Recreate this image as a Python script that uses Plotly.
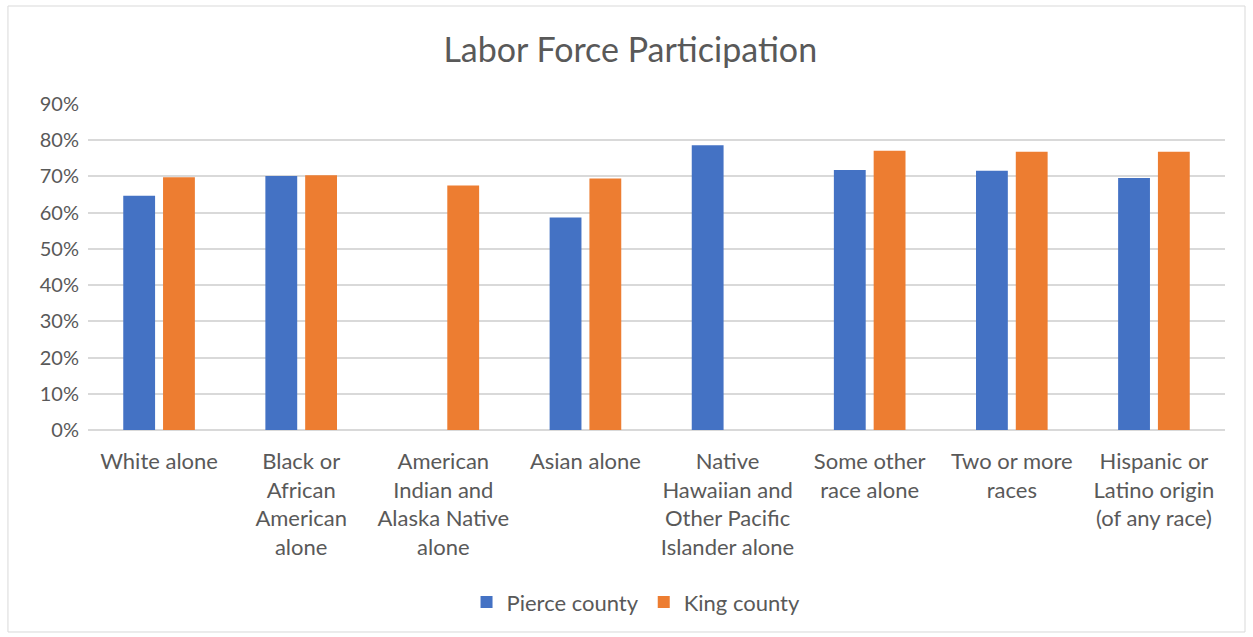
import plotly.graph_objects as go

categories = [
    "White alone",
    "Black or<br>African<br>American<br>alone",
    "American<br>Indian and<br>Alaska Native<br>alone",
    "Asian alone",
    "Native<br>Hawaiian and<br>Other Pacific<br>Islander alone",
    "Some other<br>race alone",
    "Two or more<br>races",
    "Hispanic or<br>Latino origin<br>(of any race)",
]
pierce = [0.647, 0.701, None, 0.587, 0.786, 0.718, 0.716, 0.696]
king = [0.698, 0.703, 0.675, 0.694, None, 0.771, 0.768, 0.768]
y_ticks = [0, 0.1, 0.2, 0.3, 0.4, 0.5, 0.6, 0.7, 0.8, 0.9]

TEXT = "#595959"
FONT = "Lato, 'Noto Sans', sans-serif"

fig = go.Figure()
fig.add_trace(go.Bar(name="Pierce county", x=categories, y=pierce,
                     marker=dict(color="#4472C4", line=dict(width=0))))
fig.add_trace(go.Bar(name="King county", x=categories, y=king,
                     marker=dict(color="#ED7D31", line=dict(width=0))))

fig.update_layout(
    width=1253, height=637,
    margin=dict(l=88, r=28, t=104, b=207),
    paper_bgcolor="white", plot_bgcolor="white",
    font=dict(family=FONT, color=TEXT, size=22),
    barmode="group", bargap=0.44, bargroupgap=0.2,
    title=dict(text="Labor Force Participation", x=0.503, xref="container",
               y=1 - 50 / 637, yref="container", xanchor="center", yanchor="middle",
               font=dict(size=34, color=TEXT, family=FONT)),
    legend=dict(orientation="h", x=0.482, xanchor="center", y=-0.528, yanchor="middle",
                font=dict(size=22, color=TEXT), itemsizing="constant",
                traceorder="normal", itemwidth=30),
    showlegend=True,
    hovermode=False,
)
fig.update_xaxes(showgrid=False, showline=False, ticks="", tickfont=dict(size=22, color=TEXT),
                 ticklabelstandoff=16)
fig.update_yaxes(range=[0, 0.9], tickvals=y_ticks, tickformat=".0%",
                 showgrid=True, gridcolor="#d9d9d9", gridwidth=1.5,
                 zeroline=True, zerolinecolor="#d9d9d9", zerolinewidth=1.5,
                 showline=False, ticks="", tickfont=dict(size=20, color=TEXT),
                 ticklabelstandoff=8)

# outer chart border
fig.add_shape(type="rect", xref="paper", yref="paper",
              x0=-0.0704, x1=1.0176, y0=-0.6196, y1=1.3006,
              line=dict(color="#d9d9d9", width=1), fillcolor="rgba(0,0,0,0)", layer="below")

fig.write_html("out.html")
